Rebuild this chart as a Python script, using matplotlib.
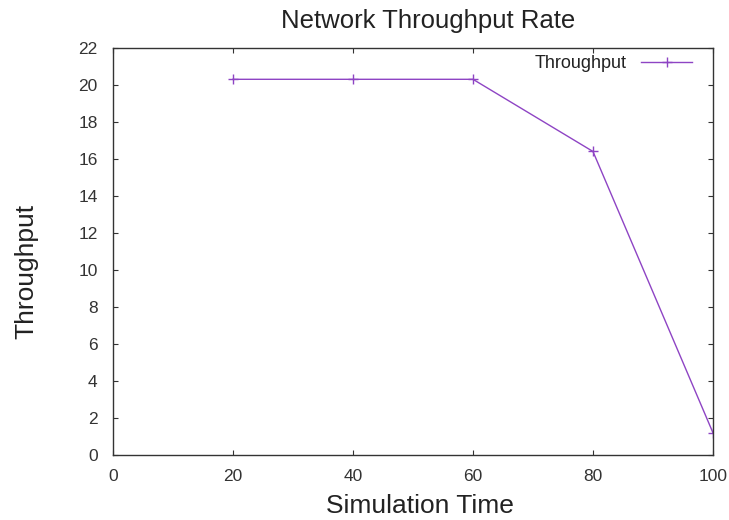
"""
Network throughput over simulation time, gnuplot look.
"""

import matplotlib.pyplot as plt

plt.rcParams["font.family"] = ["Liberation Sans", "DejaVu Sans"]

# Values
sim_time = [20, 40, 60, 80, 100]
throughput = [20.3, 20.3, 20.3, 16.4, 1.2]
x_ticks = [0, 20, 40, 60, 80, 100]
y_ticks = list(range(0, 23, 2))


def main():
    """Entry point of the script."""

    fig = plt.figure(figsize=(7.29, 5.2), dpi=100)
    ax = fig.add_axes([0.155, 0.125, 0.823, 0.783])

    ax.plot(sim_time, throughput, color="#8e44c4", lw=1.0, marker="+",
            ms=7, mew=1.0, label="Throughput")

    ax.set_xlim(0, 100)
    ax.set_ylim(0, 22)
    ax.set_xticks(x_ticks)
    ax.set_yticks(y_ticks)
    ax.tick_params(direction="in", top=True, right=True, length=3.5,
                   width=0.8, labelsize=12.5, colors="#333333")
    ax.tick_params(axis="x", pad=10)
    ax.tick_params(axis="y", pad=11)
    for spine in ax.spines.values():
        spine.set_linewidth(1.0)
        spine.set_color("#333333")

    # gnuplot puts the titles a bit right of the plot centre
    ax.set_title("Network Throughput Rate", fontsize=18.5, pad=14,
                 color="#222222", x=0.525)
    ax.set_xlabel("Simulation Time", fontsize=19, labelpad=7.5,
                  color="#222222", x=0.512)
    ax.set_ylabel("Throughput", fontsize=19, labelpad=29,
                  color="#222222", y=0.452)

    ax.legend(loc="upper right", bbox_to_anchor=(0.977, 1.0), frameon=False,
              markerfirst=False, fontsize=13, handlelength=2.8,
              handletextpad=0.8, borderaxespad=0.0, labelcolor="#222222")

    fig.savefig("out.png", dpi=100)


if __name__ == "__main__":
    main()
